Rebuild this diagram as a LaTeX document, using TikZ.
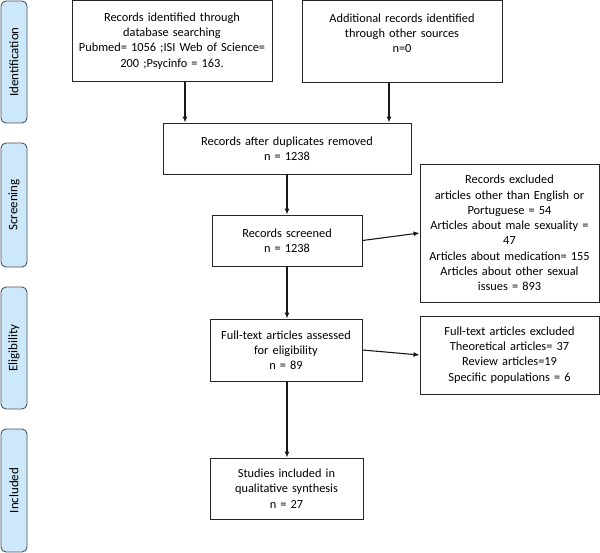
\documentclass[tikz,border=0pt]{standalone}
\usepackage{fontspec}
\setmainfont{Carlito}
\usetikzlibrary{arrows.meta}
\definecolor{bandfill}{HTML}{CCE8FA}
\definecolor{bandline}{HTML}{4A5560}
\begin{document}
\begin{tikzpicture}[x=1bp,y=-1bp,
  every node/.style={font=\fontsize{12.4}{15.3}\selectfont},
  flowbox/.style={draw=black!85,line width=0.9bp,inner sep=0pt,align=center},
  band/.style={draw=bandline,fill=bandfill,line width=0.9bp,rounded corners=5bp,inner sep=0pt,minimum height=26bp,rotate=90,font=\fontsize{13}{15.3}\selectfont},
  arr/.style={draw=black!90,line width=1.1bp,-{Latex[length=6bp,width=5bp]}}]
\useasboundingbox (0,0) rectangle (600,553);
% phase bands
\node[band,minimum width=122bp] (bid) at (14,62) {Identification};
\node[band,minimum width=124bp] (bsc) at (14,205) {Screening};
\node[band,minimum width=122bp] (bel) at (14,348) {Eligibility};
\node[band,minimum width=123bp] (bin) at (14,490.5) {Included};
% boxes
\node[flowbox,minimum width=200bp,minimum height=81bp,text width=196bp] (b1) at (172,41)
  {Records identified through\\database searching\\Pubmed= 1056 ;ISI Web of Science=\\200 ;Psycinfo = 163.};
\node[flowbox,minimum width=200bp,minimum height=82bp,text width=196bp] (b2) at (402,41)
  {Additional records identified\\through other sources\\n=0\\~};
\node[flowbox,minimum width=248bp,minimum height=51bp,text width=244bp] (b3) at (287,148.5)
  {Records after duplicates removed\\n = 1238};
\node[flowbox,minimum width=150bp,minimum height=51bp,text width=146bp] (b4) at (287,240.5)
  {Records screened\\n = 1238};
\node[flowbox,minimum width=179bp,minimum height=138bp,text width=175bp] (b5) at (509.5,233)
  {Records excluded\\articles other than English or\\Portuguese = 54\\Articles about male sexuality =\\47\\Articles about medication= 155\\Articles about other sexual\\issues = 893};
\node[flowbox,minimum width=152bp,minimum height=62bp,text width=148bp] (b6) at (286,350)
  {Full-text articles assessed\\for eligibility\\n = 89};
\node[flowbox,minimum width=179bp,minimum height=78bp,text width=175bp] (b7) at (509.5,355)
  {Full-text articles excluded\\Theoretical articles= 37\\Review articles=19\\Specific populations = 6};
\node[flowbox,minimum width=153bp,minimum height=61bp,text width=149bp] (b8) at (286.5,488.5)
  {Studies included in\\qualitative synthesis\\n = 27};
% connectors
\coordinate (c1) at (185,0);
\coordinate (c2) at (389,0);
\coordinate (c3) at (287,0);
\draw[arr] (b1.south -| c1) -- (b3.north -| c1);
\draw[arr] (b2.south -| c2) -- (b3.north -| c2);
\draw[arr] (b3.south -| c3) -- (b4.north -| c3);
\draw[arr] (b4.east) -- (b5.west);
\draw[arr] (b4.south -| c3) -- (b6.north -| c3);
\draw[arr] (b6.east) -- (b7.west);
\draw[arr] (b6.south -| c3) -- (b8.north -| c3);
\end{tikzpicture}
\end{document}
